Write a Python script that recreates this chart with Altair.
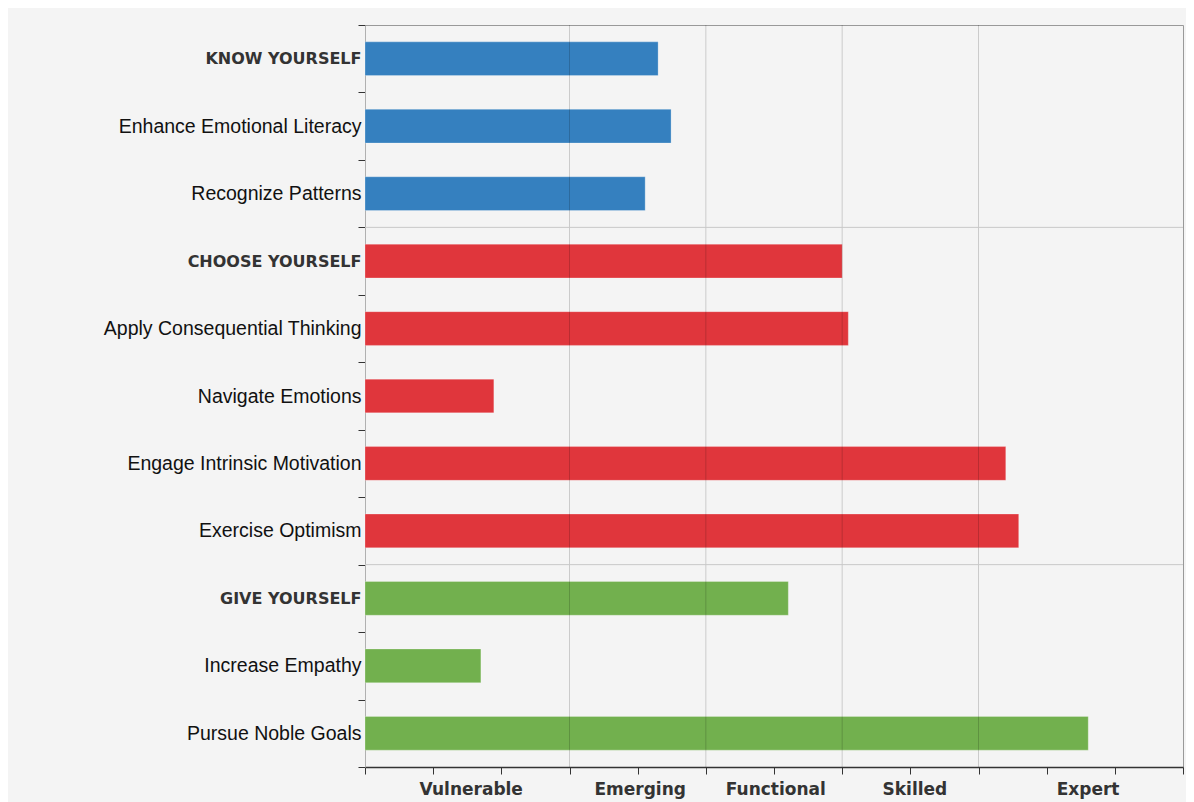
import altair as alt
import pandas as pd

categories = [
    "KNOW YOURSELF", "Enhance Emotional Literacy", "Recognize Patterns",
    "CHOOSE YOURSELF", "Apply Consequential Thinking", "Navigate Emotions",
    "Engage Intrinsic Motivation", "Exercise Optimism",
    "GIVE YOURSELF", "Increase Empathy", "Pursue Noble Goals",
]
groups = ["Know", "Know", "Know",
          "Choose", "Choose", "Choose", "Choose", "Choose",
          "Give", "Give", "Give"]
scores = [4.30, 4.49, 4.11, 7.00, 7.09, 1.89, 9.40, 9.59, 6.21, 1.70, 10.61]

group_names = ["Know", "Choose", "Give"]
group_colors = ["#3580bf", "#e0363c", "#72b04e"]

level_names = ["Vulnerable", "Emerging", "Functional", "Skilled", "Expert"]
level_positions = [1.55, 4.03, 6.02, 8.06, 10.6]
level_boundaries = [3, 5, 7, 9]
x_ticks = list(range(0, 13))

# last item of each group before a new group starts (separator drawn below it)
group_ends = ["Recognize Patterns", "Exercise Optimism"]

df = pd.DataFrame({"category": categories, "group": groups, "score": scores})
grid_df = pd.DataFrame({"b": level_boundaries})
sep_df = pd.DataFrame({"category": group_ends})

axis_values = sorted(set(x_ticks + level_positions))
label_expr = " : ".join(
    f"datum.value == {p} ? '{n}'" for p, n in zip(level_positions, level_names)
) + " : ''"
nontick = [p for p in level_positions if p not in x_ticks]
tick_test = " || ".join(f"datum.value == {p}" for p in nontick)

heading_test = "indexof(datum.label, 'YOURSELF') >= 0"

y_scale = alt.Scale(domain=categories, paddingInner=0.5, paddingOuter=0.25)
y_scale_cells = alt.Scale(domain=categories, paddingInner=0, paddingOuter=0)
x_scale = alt.Scale(domain=[0, 12], nice=False, zero=True)

x_axis = alt.Axis(
    values=axis_values,
    labelExpr=label_expr,
    title=None,
    grid=False,
    domainColor="#333333",
    domainWidth=1.5,
    tickColor="#333333",
    tickSize=7,
    tickOpacity={"condition": {"test": tick_test, "value": 0}, "value": 1},
    labelFont="DejaVu Sans",
    labelFontWeight="bold",
    labelFontSize=17,
    labelColor="#333333",
    labelPadding=7,
    labelOverlap=False,
    labelFlush=False,
    labelBaseline="top",
)

y_axis = alt.Axis(
    title=None,
    grid=False,
    domainColor="#b0b0b0",
    tickColor="#333333",
    tickSize=7,
    tickBand="extent",
    labelPadding=-3,
    labelLimit=400,
    labelFont={"condition": {"test": heading_test, "value": "DejaVu Sans"},
               "value": "Liberation Sans, Arial"},
    labelFontWeight={"condition": {"test": heading_test, "value": "bold"},
                     "value": "normal"},
    labelFontSize={"condition": {"test": heading_test, "value": 16},
                   "value": 19.5},
    labelColor={"condition": {"test": heading_test, "value": "#333333"},
                "value": "#111111"},
)

bars = alt.Chart(df).mark_bar(stroke="#ffffff", strokeOpacity=0.25, strokeWidth=1).encode(
    y=alt.Y("category:N", sort=categories, scale=y_scale, axis=None),
    x=alt.X("score:Q", scale=x_scale, axis=x_axis),
    color=alt.Color("group:N", scale=alt.Scale(domain=group_names, range=group_colors),
                    legend=None),
)

grid = alt.Chart(grid_df).mark_rule(color="#000000", opacity=0.17, strokeWidth=1).encode(
    x=alt.X("b:Q", scale=x_scale),
)

seps = alt.Chart(sep_df).mark_rule(color="#c8c8c8", strokeWidth=1).encode(
    y=alt.Y("category:N", sort=categories, scale=y_scale_cells, bandPosition=1, axis=y_axis),
)

chart = alt.layer(bars, grid, seps).resolve_scale(
    y="independent"
).resolve_axis(
    y="independent"
).properties(
    width=818,
    height=742,
    padding={"left": 357, "top": 17, "right": 3, "bottom": 38},
    autosize=alt.AutoSizeParams(type="none"),
    background="#f4f4f4",
).configure_view(
    stroke="#999999",
    strokeWidth=1,
)

chart.save("out.html", embed_options={"renderer": "svg", "actions": False})
